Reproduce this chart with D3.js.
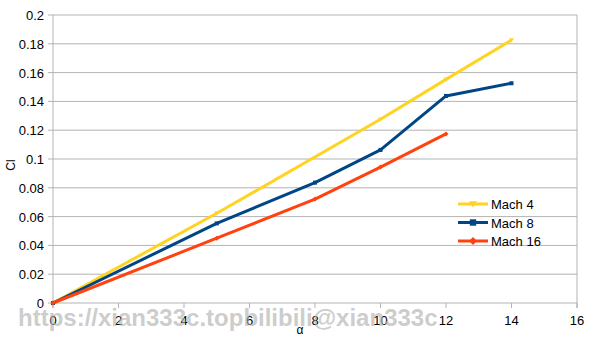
<!DOCTYPE html>
<html>
<head>
<meta charset="utf-8">
<script src="https://cdn.jsdelivr.net/npm/d3@7"></script>
<style>
  body { margin: 0; background: #fff; }
  text { font-family: "Liberation Sans", Arial, sans-serif; }
</style>
</head>
<body>
<div id="chart"></div>
<script>
// chart values
var mach4X  = [0, 5, 10, 12, 14];
var mach4Y  = [0, 0.0623, 0.1276, 0.1553, 0.1826];
var mach8X  = [0, 5, 8, 10, 12, 14];
var mach8Y  = [0, 0.0553, 0.0836, 0.1063, 0.1438, 0.1526];
var mach16X = [0, 5, 8, 10, 12];
var mach16Y = [0, 0.045, 0.0722, 0.0944, 0.1174];
var seriesNames = ["Mach 4", "Mach 8", "Mach 16"];
var xTicks = [0, 2, 4, 6, 8, 10, 12, 14, 16];
var yTicks = [0, 0.02, 0.04, 0.06, 0.08, 0.1, 0.12, 0.14, 0.16, 0.18, 0.2];

var W = 605, H = 340;
var margin = {top: 15, right: 28, bottom: 37, left: 53},
    width = W - margin.left - margin.right,
    height = H - margin.top - margin.bottom;

var svg = d3.select("#chart").append("svg")
    .attr("width", W)
    .attr("height", H);

var g = svg.append("g")
    .attr("transform", "translate(" + margin.left + "," + margin.top + ")");

var x = d3.scaleLinear().domain([0, 16]).range([0, width]);
var y = d3.scaleLinear().domain([0, 0.2]).range([height, 0]);

// gridlines
g.selectAll(".grid").data(yTicks).enter().append("line")
    .attr("x1", -5).attr("x2", width)
    .attr("y1", function(d) { return y(d); })
    .attr("y2", function(d) { return y(d); })
    .attr("stroke", "#b3b3b3").attr("stroke-width", 1);

// frame lines
g.append("line").attr("x1", 0).attr("x2", 0).attr("y1", 0).attr("y2", height + 5)
    .attr("stroke", "#b3b3b3");
g.append("line").attr("x1", width).attr("x2", width).attr("y1", 0).attr("y2", height + 5)
    .attr("stroke", "#b3b3b3");
g.selectAll(".xtick").data(xTicks).enter().append("line")
    .attr("x1", function(d) { return x(d); }).attr("x2", function(d) { return x(d); })
    .attr("y1", height).attr("y2", height + 5)
    .attr("stroke", "#b3b3b3");

// tick labels
g.selectAll(".ylab").data(yTicks).enter().append("text")
    .attr("x", -9)
    .attr("y", function(d) { return y(d) + 5; })
    .attr("text-anchor", "end")
    .attr("font-size", 13)
    .attr("fill", "#000")
    .text(function(d) { return d3.format("~g")(d); });

g.selectAll(".xlab").data(xTicks).enter().append("text")
    .attr("x", function(d) { return x(d); })
    .attr("y", height + 22)
    .attr("text-anchor", "middle")
    .attr("font-size", 13)
    .attr("fill", "#000")
    .text(function(d) { return d; });

// axis titles
svg.append("text")
    .attr("transform", "translate(15,165) rotate(-90)")
    .attr("text-anchor", "middle")
    .attr("font-size", 12)
    .text("Cl");
svg.append("text")
    .attr("x", 300).attr("y", 334)
    .attr("text-anchor", "middle")
    .attr("font-size", 12)
    .text("α");

// series
var series = [
  {name: seriesNames[0], xs: mach4X, ys: mach4Y, color: "#ffd320", shape: "tri"},
  {name: seriesNames[1], xs: mach8X, ys: mach8Y, color: "#004586", shape: "sq"},
  {name: seriesNames[2], xs: mach16X, ys: mach16Y, color: "#ff420e", shape: "dia"}
];

var line = d3.line()
    .x(function(d) { return x(d[0]); })
    .y(function(d) { return y(d[1]); });

function marker(sel, shape, size) {
  if (shape === "tri") {
    sel.append("path").attr("d", "M" + (-size) + "," + (-size * 0.7) + "L" + size + "," + (-size * 0.7) + "L0," + (size * 0.9) + "Z");
  } else if (shape === "sq") {
    sel.append("rect").attr("x", -size * 0.8).attr("y", -size * 0.8)
      .attr("width", size * 1.6).attr("height", size * 1.6);
  } else {
    sel.append("path").attr("d", "M0," + (-size) + "L" + size + ",0L0," + size + "L" + (-size) + ",0Z");
  }
}

series.forEach(function(s) {
  var pts = s.xs.map(function(v, i) { return [v, s.ys[i]]; });
  g.append("path")
      .datum(pts)
      .attr("fill", "none")
      .attr("stroke", s.color)
      .attr("stroke-width", 3)
      .attr("stroke-linejoin", "round")
      .attr("d", line);
  pts.forEach(function(p) {
    var m = g.append("g")
        .attr("transform", "translate(" + x(p[0]) + "," + y(p[1]) + ")")
        .attr("fill", s.color);
    marker(m, s.shape, 2.5);
  });
});

// legend
var legend = svg.append("g").attr("transform", "translate(458,204)");
series.forEach(function(s, i) {
  var row = legend.append("g").attr("transform", "translate(0," + (i * 18.5) + ")");
  row.append("line").attr("x1", 0).attr("x2", 30).attr("y1", 0).attr("y2", 0)
      .attr("stroke", s.color).attr("stroke-width", 3);
  var m = row.append("g").attr("transform", "translate(15,0)").attr("fill", s.color);
  marker(m, s.shape, 4);
  row.append("text").attr("x", 33).attr("y", 5)
      .attr("font-size", 13)
      .text(s.name);
});

// watermark
svg.append("text")
    .attr("x", 18).attr("y", 326)
    .attr("font-size", 24)
    .attr("font-weight", "bold")
    .attr("fill", "#b0b0b0")
    .attr("fill-opacity", 0.65)
    .text("https://xian333c.topbilibili@xian333c");
</script>
</body>
</html>
